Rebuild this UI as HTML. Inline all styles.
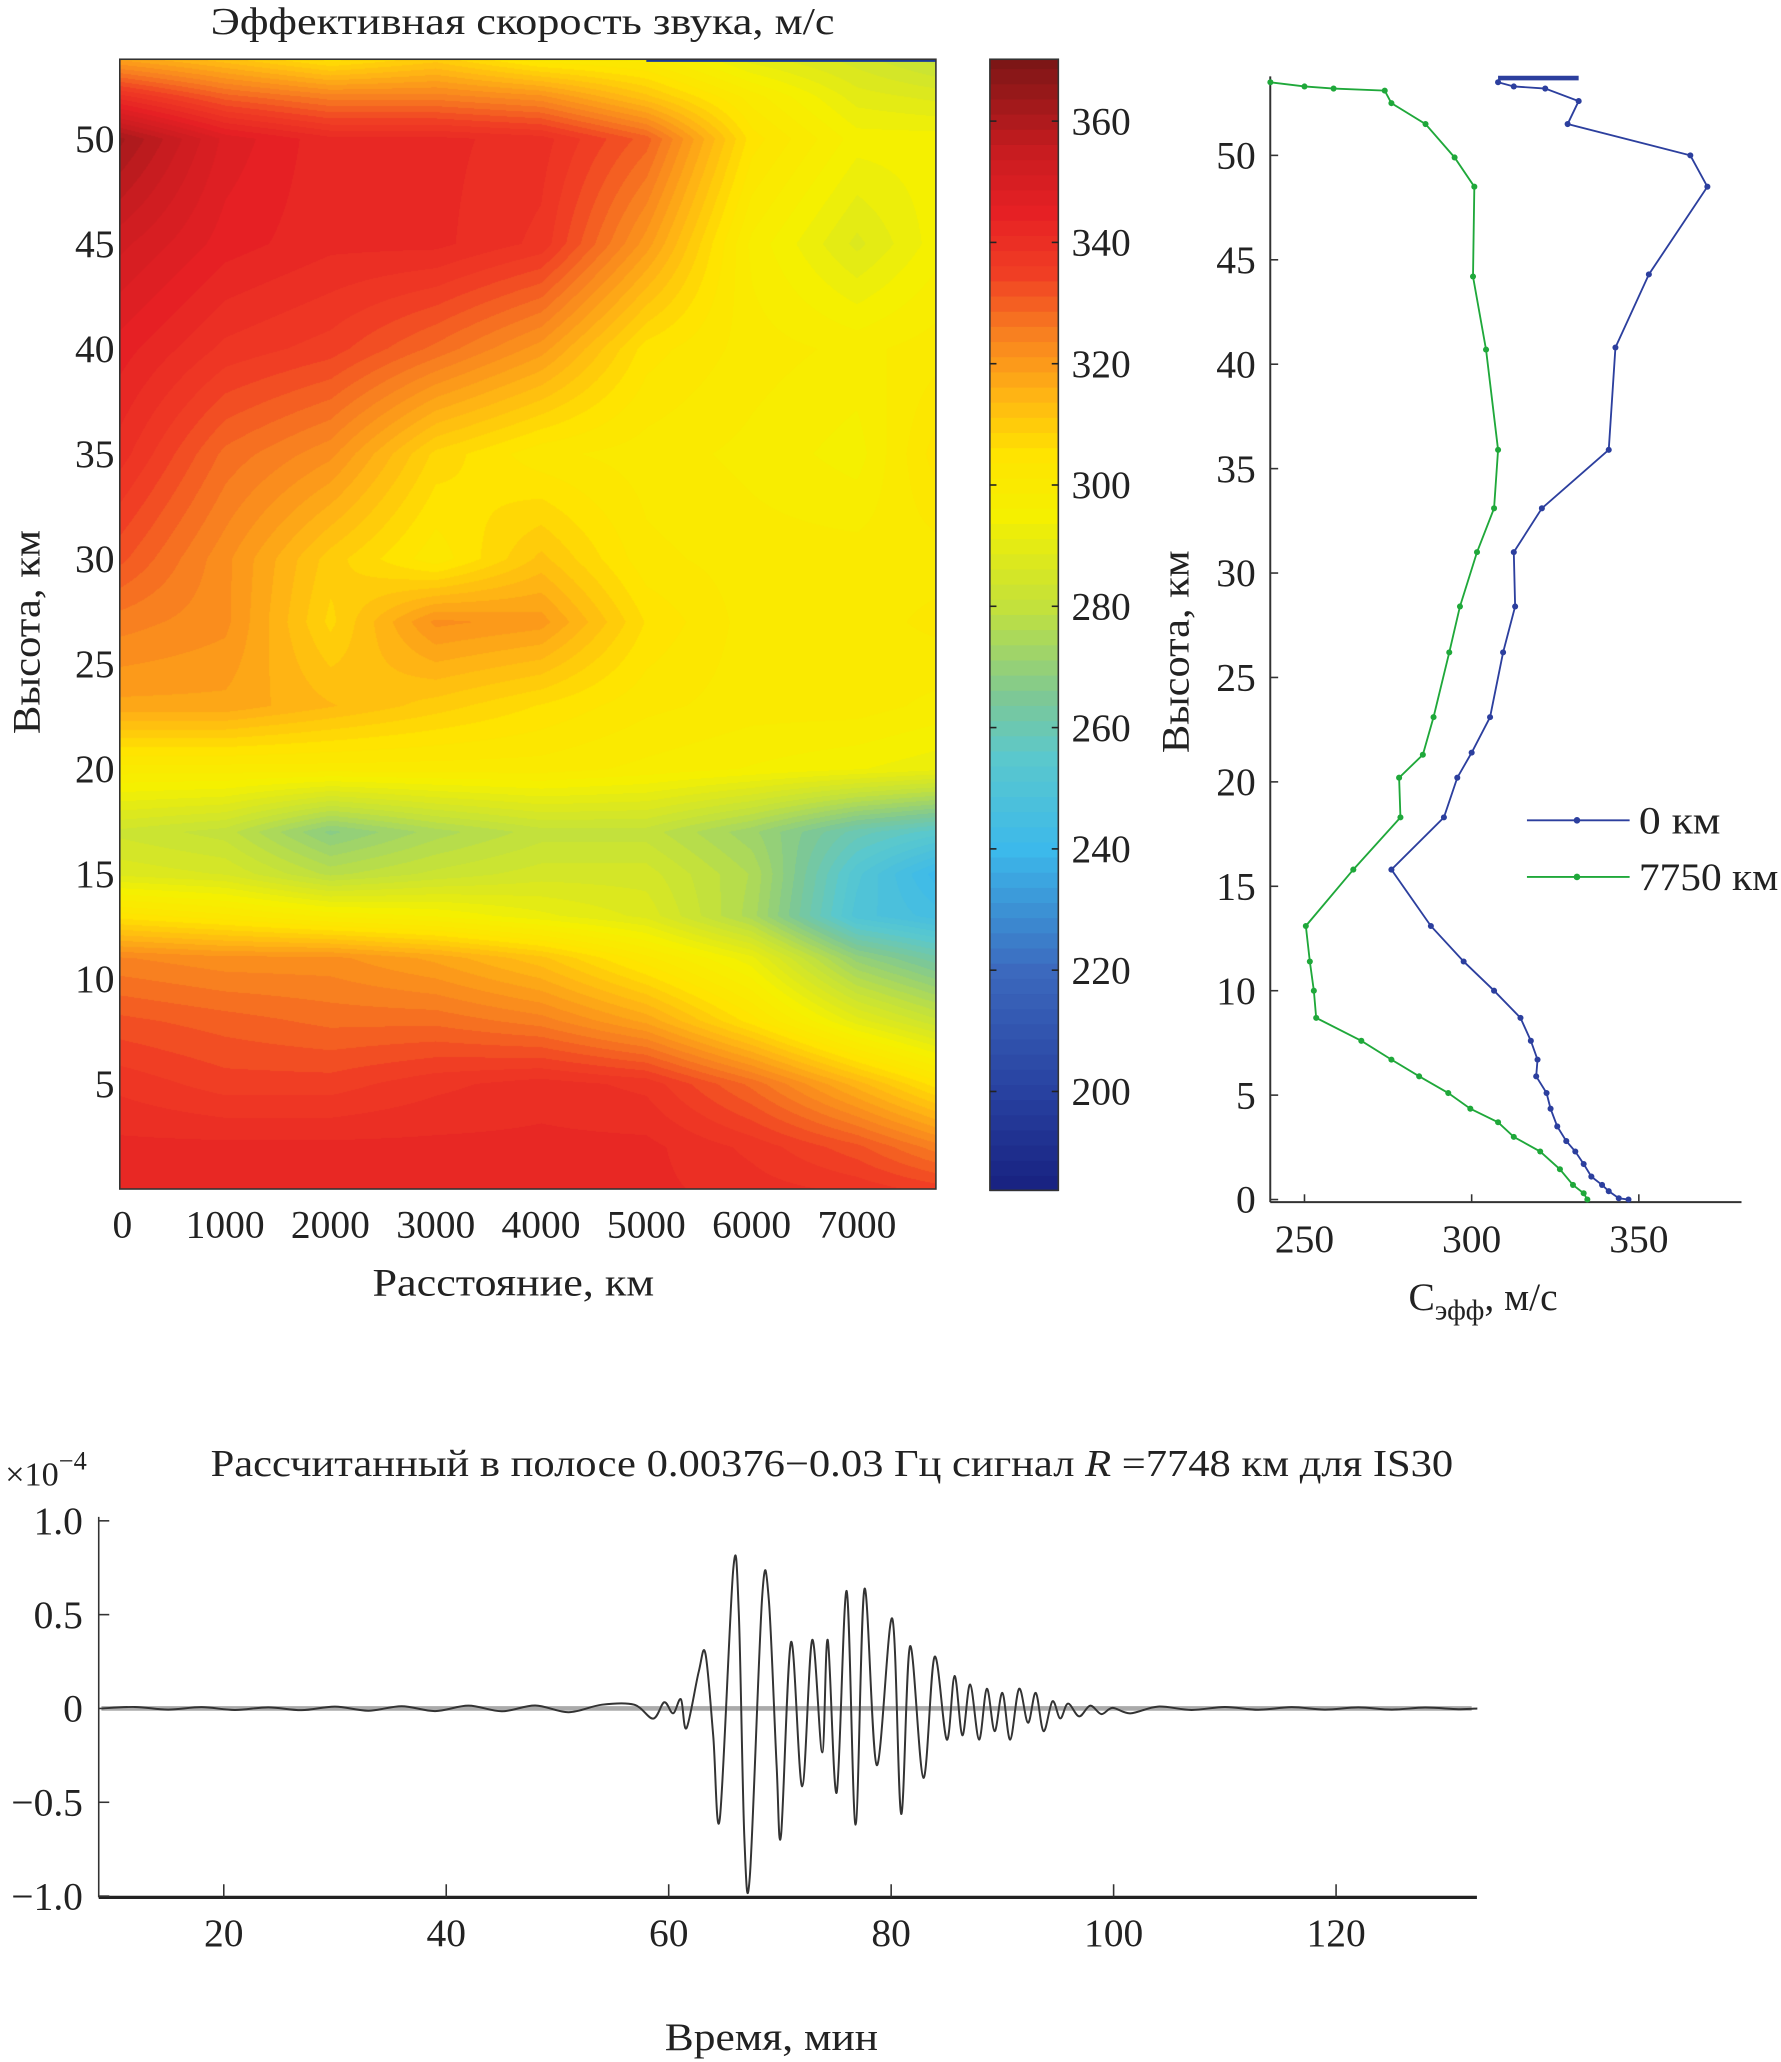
<!DOCTYPE html>
<html><head><meta charset="utf-8">
<style>
html,body{margin:0;padding:0;background:#fff;}
#wrap{position:relative;width:1781px;height:2062px;overflow:hidden;}
#hm{position:absolute;left:120px;top:59px;width:816px;height:1130px;}
svg{position:absolute;left:0;top:0;}
text{font-family:"Liberation Serif",serif;fill:#222;}
</style></head>
<body>
<div id="wrap">
<canvas id="hm" width="816" height="1130"></canvas>
<svg id="s" width="1781" height="2062" viewBox="0 0 1353 1566" preserveAspectRatio="none"></svg>
</div>
<script>
// ---------- heatmap data ----------
const hmDist=[0,1000,2000,3000,4000,5000,6000,7000,7750];
const hmAlt=[0,2,5,8,11,13,15,17,20,23,27,30,35,40,45,50,52,53.8];
const hmRow0=[342,342,342,342,343,342,340,338,335];
const hmRow2=[342,342,342,342,342,342,338,332,325];
const hmRow5=[338,335,335,338,340,338,328,315,305];
const hmRow8=[332,330,328,328,325,318,305,290,282];
const hmRow11=[324,322,322,318,312,302,292,270,262];
const hmRow13=[305,302,298,296,292,288,275,250,245];
const hmRow15=[288,286,278,282,285,285,276,252,240];
const hmRow17=[283,280,268,275,280,280,272,260,255];
const hmRow20=[300,300,300,300,300,298,296,294,292];
const hmRow23=[318,318,314,310,306,302,300,300,298];
const hmRow27=[325,322,308,322,320,306,300,300,302];
const hmRow30=[332,322,310,302,312,302,300,300,300];
const hmRow35=[340,328,322,308,302,300,298,295,305];
const hmRow40=[345,338,335,328,320,305,300,298,300];
const hmRow45=[352,345,342,342,338,320,298,288,295];
const hmRow50=[362,348,342,342,340,330,305,295,295];
const hmRow52=[340,330,325,325,322,312,300,290,288];
const hmRow54=[318,312,305,310,302,300,290,285,280];
const hmRows=[hmRow0,hmRow2,hmRow5,hmRow8,hmRow11,hmRow13,hmRow15,hmRow17,hmRow20,hmRow23,hmRow27,hmRow30,hmRow35,hmRow40,hmRow45,hmRow50,hmRow52,hmRow54];
const hmXTicks=[0,1000,2000,3000,4000,5000,6000,7000];
const hmYTicks=[5,10,15,20,25,30,35,40,45,50];
const cbTicks=[200,220,240,260,280,300,320,340,360];
const cmapV=[185,200,220,240,255,265,280,295,305,315,325,335,345,355,370];
const cmapC=[[25,35,130],[40,65,160],[60,105,190],[60,185,235],[90,200,205],[125,200,150],[195,225,60],[245,240,0],[255,228,0],[255,180,20],[248,128,32],[240,62,36],[230,32,36],[200,28,32],[125,22,22]];

// ---------- profile data ----------
const blueAlt=[53.5,53.3,53.2,52.6,51.5,50,48.5,44.3,40.8,35.9,33.1,31,28.4,26.2,23.1,21.4,20.2,18.3,15.8,13.1,11.4,10.0,8.7,7.6,6.7,5.9,5.1,4.35,3.5,2.8,2.3,1.7,1.1,0.7,0.4,0.06,0];
const blueC=[307.9,312.6,322,332,328.7,365.4,370.5,353,343,341,321,312.6,313,309.4,305.5,300,295.7,291.7,276,287.8,297.6,306.7,314.6,317.7,319.7,319.3,322.4,323.6,325.6,328.3,331,333.5,335.8,339,341,344,346.9];
const greenAlt=[53.5,53.3,53.2,53.1,52.5,51.5,49.9,48.5,44.2,40.7,35.9,33.1,31,28.4,26.2,23.1,21.3,20.2,18.3,15.8,13.1,11.4,10.0,8.7,7.6,6.7,5.9,5.1,4.35,3.7,3.0,2.3,1.45,0.7,0.3,0];
const greenC=[239.8,250,258.7,274,276,286.2,294.9,300.8,300.4,304.3,307.9,306.7,301.6,296.5,293.3,288.6,285.4,278.3,278.7,264.6,250.4,251.6,252.8,253.5,267,276,284.3,293,299.6,307.9,312.6,320.5,326.4,330.3,333.5,334.6];
const profXTicks=[250,300,350];
const profYTicks=[0,5,10,15,20,25,30,35,40,45,50];

// ---------- signal data ----------
const sigT=[9,12,15,18,21,24,27,30,33,36,39,42,45,48,51,54,56.9,58.6,59.6,60.4,61.1,61.6,62.7,63.3,64.0,64.6,65.8,66.3,66.8,67.3,68.4,69.0,69.7,70.1,71.0,72.0,72.9,73.8,74.3,75.1,76.0,76.8,77.6,78.7,80.1,80.9,81.7,82.9,83.9,85.0,85.7,86.4,87.1,87.9,88.6,89.3,90.0,90.7,91.5,92.3,93.0,93.7,94.5,95.2,95.9,96.9,97.9,98.9,99.9,101.5,104,107,110,113,116,119,122,125,128,131,132.7];
const sigV=[0,0.008,-0.006,0.007,-0.008,0.006,-0.009,0.01,-0.012,0.012,-0.014,0.015,-0.015,0.016,-0.02,0.02,0.02,-0.054,0.033,-0.026,0.049,-0.105,0.196,0.293,-0.143,-0.585,0.739,0.513,-0.686,-0.89,0.592,0.58,-0.302,-0.675,0.354,-0.415,0.365,-0.234,0.365,-0.449,0.626,-0.619,0.637,-0.302,0.479,-0.562,0.332,-0.37,0.275,-0.166,0.173,-0.143,0.128,-0.166,0.105,-0.121,0.083,-0.166,0.105,-0.076,0.083,-0.121,0.038,-0.053,0.026,-0.042,0.015,-0.03,0.003,-0.026,0.01,-0.008,0.008,-0.007,0.007,-0.006,0.006,-0.006,0.005,-0.004,0];
const sigXTicks=[20,40,60,80,100,120];
const sigYTicks=[1.0,0.5,0,-0.5,-1.0];
const sigYLabels=["1.0","0.5","0","\u22120.5","\u22121.0"];

// ---------- helpers ----------
const NS="http://www.w3.org/2000/svg";
const svg=document.getElementById('s');
function mk(tag,attrs,parent){const e=document.createElementNS(NS,tag);for(const k in attrs)e.setAttribute(k,attrs[k]);(parent||svg).appendChild(e);return e;}
function txt(str,x,y,size,anchor,parent,len){const a={x:x,y:y,'font-size':size,'text-anchor':anchor||'middle'};if(len){a.textLength=len;a.lengthAdjust='spacingAndGlyphs';}const t=mk('text',a,parent);t.textContent=str;return t;}
function colorOf(v){
  if(v<=cmapV[0])return cmapC[0];
  for(let i=1;i<cmapV.length;i++){if(v<=cmapV[i]){const f=(v-cmapV[i-1])/(cmapV[i]-cmapV[i-1]);const a=cmapC[i-1],b=cmapC[i];return [a[0]+(b[0]-a[0])*f,a[1]+(b[1]-a[1])*f,a[2]+(b[2]-a[2])*f];}}
  return cmapC[cmapC.length-1];
}
function idx(arr,v){for(let i=0;i<arr.length-1;i++){if(v<=arr[i+1])return i;}return arr.length-2;}
function interp(d,a){
  const i=idx(hmDist,d),j=idx(hmAlt,a);
  const fx=Math.max(0,Math.min(1,(d-hmDist[i])/(hmDist[i+1]-hmDist[i])));
  const fy=Math.max(0,Math.min(1,(a-hmAlt[j])/(hmAlt[j+1]-hmAlt[j])));
  const r0=hmRows[j],r1=hmRows[j+1];
  const v0=r0[i]+(r0[i+1]-r0[i])*fx,v1=r1[i]+(r1[i+1]-r1[i])*fx;
  return v0+(v1-v0)*fy;
}

// ---------- heatmap canvas ----------
const HX0=91,HX1=711,HY0=45,HY1=903,ATOP=53.8,DMAX=7750;
(function(){
  const c=document.getElementById('hm'),ctx=c.getContext('2d');
  const W=c.width,H=c.height,img=ctx.createImageData(W,H);
  for(let py=0;py<H;py++){const a=ATOP-(py+0.5)/H*ATOP;
    for(let px=0;px<W;px++){const d=(px+0.5)/W*DMAX;
      let v=interp(d,a);v=Math.round(v/2.5)*2.5;
      const col=colorOf(v),k=(py*W+px)*4;
      img.data[k]=col[0];img.data[k+1]=col[1];img.data[k+2]=col[2];img.data[k+3]=255;}}
  ctx.putImageData(img,0,0);
})();
const hx=d=>HX0+d/DMAX*(HX1-HX0);
const hy=a=>HY1-a/ATOP*(HY1-HY0);
const gHm=mk('g',{});


mk('line',{x1:hx(5000),y1:HY0+1,x2:HX1,y2:HY0+1,stroke:'#1a3a9a','stroke-width':2},gHm);
mk('rect',{x:HX0,y:HY0,width:HX1-HX0,height:HY1-HY0,fill:'none',stroke:'#333','stroke-width':1.2},gHm);
const hmTitle=txt('Эффективная скорость звука, м/с',397,26,29,'middle',gHm,474);


hmXTicks.forEach(v=>{const t=txt(String(v),hx(v)+(v===0?2:0),940,30,'middle',gHm);
  
  });
hmYTicks.forEach(v=>{const t=txt(String(v),87,hy(v)+10,30,'end',gHm);
  
  });
const hxl=txt('Расстояние, км',390,984,30,'middle',gHm,214);


const hyl=txt('Высота, км',0,0,30,'middle',gHm,155);
hyl.setAttribute('transform','translate(30,480) rotate(-90)');



// ---------- colorbar ----------
const CX0=752,CX1=804,CY0=45,CY1=904,CMAX=370.2,CMIN=183.7;
const cy=v=>CY1-(v-CMIN)/(CMAX-CMIN)*(CY1-CY0);
const gCb=mk('g',{});


for(let v=CMIN;v<CMAX;v+=2.5){const col=colorOf(v+1.25);
  mk('rect',{x:CX0,y:cy(Math.min(v+2.5,CMAX)),width:CX1-CX0,height:cy(v)-cy(Math.min(v+2.5,CMAX))+0.6,fill:`rgb(${col.map(Math.round).join(',')})`},gCb);}
mk('rect',{x:CX0,y:CY0,width:CX1-CX0,height:CY1-CY0,fill:'none',stroke:'#333','stroke-width':1.2},gCb);
cbTicks.forEach(v=>{mk('line',{x1:CX0,x2:CX0+5,y1:cy(v),y2:cy(v),stroke:'#222','stroke-width':1.2},gCb);
  mk('line',{x1:CX1-5,x2:CX1,y1:cy(v),y2:cy(v),stroke:'#222','stroke-width':1.2},gCb);
  const t=txt(String(v),814,cy(v)+10,30,'start',gCb);
  
  });

// ---------- profile chart ----------
const PX0=965,PX1=1323,PY0=58,PY1=913;
const px=c=>991+(c-250)*2.54;
const py=a=>911-a*15.86;
const gP=mk('g',{});


mk('line',{x1:PX0,y1:PY0,x2:PX0,y2:PY1,stroke:'#333','stroke-width':1.5},gP);
mk('line',{x1:PX0,y1:PY1,x2:PX1,y2:PY1,stroke:'#333','stroke-width':1.5},gP);
profXTicks.forEach(v=>{mk('line',{x1:px(v),x2:px(v),y1:PY1,y2:PY1-6,stroke:'#333','stroke-width':1.2},gP);
  const t=txt(String(v),px(v),951,30,'middle',gP);
  
  });
profYTicks.forEach(v=>{mk('line',{x1:PX0,x2:PX0+6,y1:py(v),y2:py(v),stroke:'#333','stroke-width':1.2},gP);
  const t=txt(String(v),954,py(v)+10,30,'end',gP);
  
  });
const pxl=mk('text',{x:1070,y:995,'font-size':30,'text-anchor':'start'},gP);
pxl.innerHTML='C<tspan font-size="22" dy="7">эфф</tspan><tspan dy="-7">, м/с</tspan>';


const pyl=txt('Высота, км',0,0,30,'middle',gP,154);
pyl.setAttribute('transform','translate(903,495) rotate(-90)');


function series(cs,as,color,name){
  const g=mk('g',{},gP);
  
  
  mk('polyline',{points:cs.map((c,i)=>px(c)+','+py(as[i])).join(' '),fill:'none',stroke:color,'stroke-width':1.4},g);
  cs.forEach((c,i)=>mk('circle',{cx:px(c),cy:py(as[i]),r:2.3,fill:color},g));
}
series(blueC,blueAlt,'#2c3f9e','series-0-km');
mk('line',{x1:px(307.9),y1:py(53.7),x2:px(332),y2:py(53.7),stroke:'#2c3f9e','stroke-width':3.5},gP);
series(greenC,greenAlt,'#1fa83a','series-7750-km');
const lg=mk('g',{},gP);


mk('line',{x1:1160,x2:1238,y1:623,y2:623,stroke:'#2c3f9e','stroke-width':1.4},lg);
mk('circle',{cx:1198,cy:623,r:2.5,fill:'#2c3f9e'},lg);
txt('0 км',1245,633,30,'start',lg,62);
mk('line',{x1:1160,x2:1238,y1:666,y2:666,stroke:'#1fa83a','stroke-width':1.4},lg);
mk('circle',{cx:1198,cy:666,r:2.5,fill:'#1fa83a'},lg);
txt('7750 км',1245,676,30,'start',lg,106);

// ---------- signal chart ----------
const SX0=75,SX1=1122;
const sx=t=>170+(t-20)*8.45;
const sy=v=>1297.5-v*142.5;
const gS=mk('g',{});


mk('line',{x1:SX0,y1:1152,x2:SX0,y2:1441,stroke:'#333','stroke-width':1.2},gS);
mk('line',{x1:SX0,y1:1441,x2:SX1,y2:1441,stroke:'#222','stroke-width':2.5},gS);
sigXTicks.forEach(v=>{mk('line',{x1:sx(v),x2:sx(v),y1:1441,y2:1431,stroke:'#333','stroke-width':1.2},gS);
  const t=txt(String(v),sx(v),1478,30,'middle',gS);
  
  });
sigYTicks.forEach((v,i)=>{mk('line',{x1:SX0,x2:SX0+8,y1:sy(v),y2:sy(v),stroke:'#333','stroke-width':1.2},gS);
  const t=txt(sigYLabels[i],63,sy(v)+10,30,'end',gS);
  
  });
const sexp=mk('text',{x:4,y:1128,'font-size':26,'text-anchor':'start'},gS);
sexp.innerHTML='×10<tspan dy="-12" font-size="20">−4</tspan>';


const st=mk('text',{x:160,y:1121,'font-size':29,'text-anchor':'start',textLength:944,lengthAdjust:'spacingAndGlyphs'},gS);
st.innerHTML='Рассчитанный в полосе 0.00376−0.03 Гц сигнал <tspan font-style="italic">R</tspan> =7748 км для IS30';


const sxl=txt('Время, мин',586,1557,30,'middle',gS,162);


mk('line',{x1:sx(9),x2:SX1-4,y1:sy(0),y2:sy(0),stroke:'#aaa','stroke-width':3.5},gS);
// smooth path through extremes (Catmull-Rom)
const P=sigT.map((t,i)=>[sx(t),sy(sigV[i])]);
let d='M'+P[0][0]+','+P[0][1];
for(let i=0;i<P.length-1;i++){const p0=P[Math.max(0,i-1)],p1=P[i],p2=P[i+1],p3=P[Math.min(P.length-1,i+2)];
  const c1=[p1[0]+(p2[0]-p0[0])/6,p1[1]+(p2[1]-p0[1])/6],c2=[p2[0]-(p3[0]-p1[0])/6,p2[1]-(p3[1]-p1[1])/6];
  d+=` C${c1[0]},${c1[1]} ${c2[0]},${c2[1]} ${p2[0]},${p2[1]}`;}
const sp=mk('path',{d:d,fill:'none',stroke:'#333','stroke-width':1.5},gS);


</script>
</body></html>
